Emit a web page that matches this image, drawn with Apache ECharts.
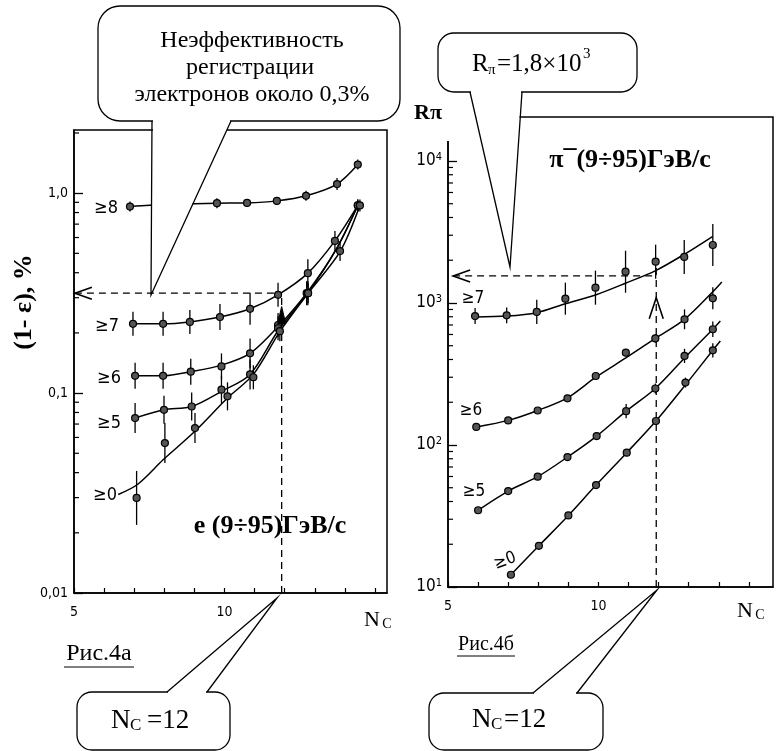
<!DOCTYPE html>
<html><head><meta charset="utf-8">
<script src="https://cdn.jsdelivr.net/npm/echarts@6/dist/echarts.min.js"></script>
<style>html,body{margin:0;padding:0;background:#fff}#c{width:776px;height:751px}</style>
</head><body><div id="c"></div>
<script>
// ---------- Рис.4а : electrons, (1-ε) % vs N_C ----------
const aX8=[6.86,9.75,10.75,11.74,12.71,13.74,14.43];
const aY8=[0.857,0.891,0.894,0.915,0.97,1.11,1.39];
const aE8=[0.025,0.025,0.02,0.02,0.025,0.03,0.025];
const aX7=[6.96,7.96,8.85,9.85,10.85,11.78,12.77,13.67,14.43];
const aY7=[0.222,0.222,0.227,0.24,0.264,0.31,0.398,0.577,0.868];
const aE7=[0.06,0.06,0.06,0.065,0.08,0.06,0.07,0.05,0.03];
const aX6=[7.03,7.96,8.88,9.9,10.85,11.78,12.73,14.43];
const aY6=[0.122,0.122,0.128,0.136,0.158,0.219,0.316,0.868];
const aE6=[0.065,0.065,0.065,0.065,0.075,0.06,0.06,0.03];
const aX5=[7.03,7.99,8.91,9.9,10.85,11.78,12.77];
const aY5=[0.075,0.0825,0.0857,0.104,0.124,0.211,0.316];
const aE5=[0.075,0.07,0.07,0.07,0.075,0.06,0.06];
const aX0=[7.08,8.02,9.02,10.1,10.96,11.84,12.78,13.84,14.5];
const aY0=[0.0299,0.0562,0.0668,0.0963,0.12,0.204,0.316,0.513,0.868];
const aE0=[0.135,0.1,0.075,0.07,0.06,0.05,0.05,0.05,0.03];
// drawn fit curves
const aC8x=[6.86,7.5,9.0,9.75,10.75,11.74,12.71,13.74,14.43];
const aC8y=[0.857,0.87,0.885,0.891,0.894,0.915,0.97,1.11,1.39];
const aC7x=[6.96,7.96,8.85,9.85,10.85,11.78,12.77,13.67,14.43];
const aC7y=[0.222,0.222,0.227,0.24,0.264,0.31,0.398,0.577,0.868];
const aC6x=[7.03,7.96,8.88,9.9,10.85,11.78,12.73,13.7,14.43];
const aC6y=[0.122,0.122,0.128,0.138,0.158,0.215,0.316,0.52,0.868];
const aC5x=[7.03,7.99,8.91,9.9,10.85,11.78,12.77,13.7,14.43];
const aC5y=[0.075,0.0825,0.0857,0.102,0.124,0.205,0.316,0.52,0.868];
const aC0x=[6.47,7.12,7.97,9.0,10.1,10.96,11.84,12.78,13.84,14.5];
const aC0y=[0.0311,0.035,0.0465,0.064,0.0945,0.124,0.203,0.316,0.51,0.868];
const aLevel=0.316, aNc=11.9, aArrowY=0.271;
const aTicks=[0.01,0.1,1], aTickText=['0,01','0,1','1,0'];
const aMinor=[0.02,0.03,0.04,0.05,0.06,0.07,0.08,0.09,0.2,0.3,0.4,0.5,0.6,0.7,0.8,0.9,2];
const aXLabels=[5,10];

// ---------- Рис.4б : pions, Rπ vs N_C ----------
const bX7=[5.9,6.95,7.95,8.9,9.9,10.9,11.9,12.85,13.8];
const bY7=[809,818,865,1072,1282,1660,1953,2110,2560];
const bE7=[0.056,0.056,0.085,0.113,0.12,0.148,0.12,0.12,0.148];
const bX6=[5.94,7.0,7.98,8.97,9.91,10.91,11.89,12.86,13.8];
const bY6=[134,149,175,213,306,447,563,767,1079];
const bE6=[0.02,0.02,0.02,0.02,0.02,0.025,0.03,0.07,0.077];
const bX5=[6.0,7.0,7.98,8.97,9.94,10.92,11.89,12.86,13.8];
const bY5=[34.7,47.4,59.8,82.2,115.6,173,250,424,653];
const bE5=[0.015,0.02,0.02,0.02,0.02,0.05,0.035,0.05,0.055];
const bX0=[7.09,8.02,9.0,9.92,10.94,11.91,12.89,13.8];
const bY0=[12.2,19.5,31.9,52.2,88.3,147.6,275,464];
const bE0=[0.02,0.02,0.02,0.02,0.02,0.025,0.035,0.05];
const bC7x=[5.9,6.95,7.95,8.9,9.9,10.9,11.9,12.85,13.8];
const bC7y=[798,809,855,988,1138,1377,1690,2200,2950];
const bC6x=[5.94,7.0,7.98,8.97,9.91,10.91,11.89,12.86,13.8,14.1];
const bC6y=[134,149,175,215,300,410,563,767,1200,1406];
const bC5x=[6.0,7.0,7.98,8.97,9.94,10.92,11.89,12.86,13.8,14.05];
const bC5y=[34.7,47.4,59.8,82.2,115.6,173,250,410,653,747];
const bC0x=[7.09,8.02,9.0,9.92,10.94,11.91,12.89,13.8,14.05];
const bC0y=[12.2,19.5,31.9,52.2,88.3,147.6,265,464,539];
const bLevel=1550, bNc=11.92, bArrowY=1088, bVTop=1780;
const bTicks=[10,100,1000,10000], bTickExp=['1','2','3','4'];
const bMinor=[20,30,40,50,60,70,80,90,200,300,400,500,600,700,800,900,2000,3000,4000,5000,6000,7000,8000,9000];
const bXLabels=[5,10];

// ---------- helpers ----------
const SERIF="'Liberation Serif','Times New Roman',serif";
const SANS="'Liberation Sans Narrow','DejaVu Sans Condensed','Liberation Sans',sans-serif";
const xy=(xs,ys)=>xs.map((x,i)=>[x,ys[i]]);
const bars=(xs,ys,es)=>xs.map((x,i)=>[x,ys[i]/Math.pow(10,es[i]),ys[i]*Math.pow(10,es[i])]);
function curve(g,xs,ys){return {type:'line',xAxisIndex:g,yAxisIndex:g,data:xy(xs,ys),smooth:0.3,symbol:'none',silent:true,z:3,lineStyle:{color:'#000',width:1.5}};}
function points(g,xs,ys,size){return {type:'scatter',xAxisIndex:g,yAxisIndex:g,data:xy(xs,ys),symbol:'circle',symbolSize:size||7,silent:true,z:5,itemStyle:{color:'#555',borderColor:'#000',borderWidth:1.2,opacity:1}};}
function errs(g,xs,ys,es){return {type:'custom',xAxisIndex:g,yAxisIndex:g,data:bars(xs,ys,es),encode:{x:0,y:[1,2]},silent:true,z:4,
  renderItem:(p,api)=>{const a=api.coord([api.value(0),api.value(1)]);const b=api.coord([api.value(0),api.value(2)]);
    return {type:'line',shape:{x1:a[0],y1:a[1],x2:b[0],y2:b[1]},style:{stroke:'#000',lineWidth:1.3}};}};}
function dashed(g,data){return {type:'line',xAxisIndex:g,yAxisIndex:g,data:data,symbol:'none',silent:true,z:3,lineStyle:{color:'#000',width:1.3,type:[7,5]}};}
function minorTicks(g,xmin,vals){return {type:'custom',xAxisIndex:g,yAxisIndex:g,data:vals.map(v=>[xmin,v]),clip:false,silent:true,z:4,
  renderItem:(p,api)=>{const c=api.coord([api.value(0),api.value(1)]);return {type:'line',shape:{x1:c[0],y1:c[1],x2:c[0]+5,y2:c[1]},style:{stroke:'#000',lineWidth:1.2}};}};}
function arrow(g,pt,kind){return {type:'custom',xAxisIndex:g,yAxisIndex:g,data:[pt],clip:false,silent:true,z:6,
  renderItem:(p,api)=>{const c=api.coord([api.value(0),api.value(1)]);const x=c[0],y=c[1];
    if(kind==='left') return {type:'polyline',shape:{points:[[x+17,y-6],[x,y],[x+17,y+6]]},style:{stroke:'#000',lineWidth:1.6,fill:'none'}};
    if(kind==='up') return {type:'polyline',shape:{points:[[x-7,y+21],[x,y],[x+7,y+21]]},style:{stroke:'#000',lineWidth:1.6,fill:'none'}};
    return {type:'polygon',shape:{points:[[x-4,y+17],[x,y],[x+4,y+17]]},style:{fill:'#000',stroke:'#000',lineWidth:1}};}};}

const axisLineStyle={show:true,onZero:false,lineStyle:{color:'#000',width:1.5}};
function xAx(g,max,labels){return {gridIndex:g,type:'value',min:5,max:max,interval:1,axisLine:axisLineStyle,
  axisTick:{show:true,inside:true,length:5,lineStyle:{color:'#000',width:1.2}},splitLine:{show:false},
  axisLabel:{formatter:v=>labels.indexOf(v)>=0?String(v):'',color:'#000',fontSize:14,fontFamily:SANS,margin:12,showMaxLabel:false}};}
function txt(x,y,text,font,extra){return Object.assign({type:'text',x:x,y:y,z:103,style:{text:text,font:font,fill:'#000',textAlign:'center',textVerticalAlign:'middle'}},extra||{});}
function ltxt(x,y,text,font){return {type:'text',x:x,y:y,z:103,style:{text:text,font:font,fill:'#000',textAlign:'left',textVerticalAlign:'middle'}};}

const option={
  animation:false,
  backgroundColor:'#fff',
  grid:[
    {left:74,top:130,width:313,height:463,show:true,borderColor:'#000',borderWidth:1.5,backgroundColor:'transparent',outerBoundsMode:'none'},
    {left:448,top:117,width:325,height:470,show:true,borderColor:'#000',borderWidth:1.5,backgroundColor:'transparent',outerBoundsMode:'none'}
  ],
  xAxis:[xAx(0,15.4,aXLabels),xAx(1,15.8,bXLabels)],
  yAxis:[
    {gridIndex:0,type:'log',logBase:10,min:0.01,max:2.07,axisLine:axisLineStyle,splitLine:{show:false},
     axisTick:{show:true,inside:true,length:9,lineStyle:{color:'#000',width:1.3}},
     axisLabel:{color:'#000',fontSize:14,fontFamily:SANS,margin:6,showMaxLabel:false,
       formatter:v=>{for(let i=0;i<aTicks.length;i++){if(Math.abs(v-aTicks[i])/aTicks[i]<1e-6)return aTickText[i];}return '';}}},
    {gridIndex:1,type:'log',logBase:10,min:10,max:20400,axisLine:axisLineStyle,splitLine:{show:false},
     axisTick:{show:true,inside:true,length:9,lineStyle:{color:'#000',width:1.3}},
     axisLabel:{color:'#000',fontSize:17,fontFamily:SANS,margin:6,showMaxLabel:false,
       rich:{s:{fontSize:11,fontFamily:SANS,color:'#000',verticalAlign:'top',padding:[0,0,8,0]}},
       formatter:v=>{for(let i=0;i<bTicks.length;i++){if(Math.abs(v-bTicks[i])/bTicks[i]<1e-6)return '10{s|'+bTickExp[i]+'}';}return '';}}}
  ],
  series:[
    minorTicks(0,5,aMinor),
    curve(0,aC8x,aC8y),curve(0,aC7x,aC7y),curve(0,aC6x,aC6y),curve(0,aC5x,aC5y),curve(0,aC0x,aC0y),
    errs(0,aX8,aY8,aE8),errs(0,aX7,aY7,aE7),errs(0,aX6,aY6,aE6),errs(0,aX5,aY5,aE5),errs(0,aX0,aY0,aE0),
    points(0,aX8,aY8),points(0,aX7,aY7),points(0,aX6,aY6),points(0,aX5,aY5),points(0,aX0,aY0),
    dashed(0,[[5.03,aLevel],[aNc-0.1,aLevel]]),
    dashed(0,[[aNc,0.01],[aNc,aLevel]]),
    arrow(0,[5.03,aLevel],'left'),arrow(0,[aNc,aArrowY],'tri'),

    minorTicks(1,5,bMinor),
    curve(1,bC7x,bC7y),curve(1,bC6x,bC6y),curve(1,bC5x,bC5y),curve(1,bC0x,bC0y),
    errs(1,bX7,bY7,bE7),errs(1,bX6,bY6,bE6),errs(1,bX5,bY5,bE5),errs(1,bX0,bY0,bE0),
    points(1,bX7,bY7),points(1,bX6,bY6),points(1,bX5,bY5),points(1,bX0,bY0),
    dashed(1,[[5.17,bLevel],[bNc,bLevel]]),
    dashed(1,[[bNc,10],[bNc,bVTop]]),
    arrow(1,[5.17,bLevel],'left'),arrow(1,[bNc,bArrowY],'up')
  ],
  graphic:[
    // axis titles and panel captions
    txt(24,302,'(1- ε), %','bold 26px '+SERIF,{rotation:Math.PI/2}),
    txt(428,113,'Rπ','bold 22px '+SERIF),
    txt(372,620,'N','22px '+SERIF),
    txt(387,624,'C','14px '+SERIF),
    txt(745,611,'N','22px '+SERIF),
    txt(760,615,'C','14px '+SERIF),
    txt(270,526,'e (9÷95)ГэВ/с','bold 26px '+SERIF),
    txt(630,160,'π¯(9÷95)ГэВ/с','bold 26px '+SERIF),
    txt(99,654,'Рис.4а','24px '+SERIF),
    {type:'line',z:100,shape:{x1:64,y1:667,x2:134,y2:667},style:{stroke:'#000',lineWidth:1}},
    txt(486,645,'Рис.4б','20px '+SERIF),
    {type:'line',z:100,shape:{x1:457,y1:656,x2:515,y2:656},style:{stroke:'#000',lineWidth:1}},
    // curve labels
    txt(106,208,'≥8','18px '+SANS),
    txt(107,326,'≥7','18px '+SANS),
    txt(109,378,'≥6','18px '+SANS),
    txt(109,423,'≥5','18px '+SANS),
    txt(105,495,'≥0','18px '+SANS),
    txt(473,299,'≥7','17px '+SANS),
    txt(471,411,'≥6','17px '+SANS),
    txt(474,492,'≥5','17px '+SANS),
    txt(505,561,'≥0','17px '+SANS,{rotation:0.35}),

    // top-left of right frame is open in the original
    {type:'rect',z:99,shape:{x:443,y:111,width:33,height:30},style:{fill:'#fff'}},

    // callout: top left
    {type:'rect',z:100,shape:{x:98,y:6,width:302,height:115,r:22},style:{fill:'#fff',stroke:'#000',lineWidth:1.3}},
    {type:'polygon',z:101,shape:{points:[[153,116],[230,116],[230,123],[151,293],[153,123]]},style:{fill:'#fff'}},
    {type:'polyline',z:102,shape:{points:[[152,121],[151,295],[231,121]]},style:{stroke:'#000',lineWidth:1.3,fill:'none'}},
    txt(252,41,'Неэффективность','24px '+SERIF),
    txt(250,68,'регистрации','24px '+SERIF),
    txt(252,95,'электронов около 0,3%','24px '+SERIF),

    // callout: top right
    {type:'rect',z:100,shape:{x:438,y:33,width:199,height:59,r:16},style:{fill:'#fff',stroke:'#000',lineWidth:1.3}},
    {type:'polygon',z:101,shape:{points:[[471,88],[521,88],[521,94],[510,265],[471,94]]},style:{fill:'#fff'}},
    {type:'polyline',z:102,shape:{points:[[470,92],[510,267],[522,92]]},style:{stroke:'#000',lineWidth:1.3,fill:'none'}},
    ltxt(472,64,'R','25px '+SERIF),
    ltxt(488,70,'π','15px '+SERIF),
    ltxt(497,64,'=1,8×10','25px '+SERIF),
    ltxt(583,54,'3','15px '+SERIF),

    // callout: bottom left
    {type:'rect',z:100,shape:{x:77,y:692,width:153,height:58,r:15},style:{fill:'#fff',stroke:'#000',lineWidth:1.3}},
    {type:'polygon',z:101,shape:{points:[[168,689],[206,689],[206,694],[168,694]]},style:{fill:'#fff'}},
    {type:'polyline',z:102,shape:{points:[[167,692],[277,598],[207,692]]},style:{stroke:'#000',lineWidth:1.3,fill:'none'}},
    ltxt(111,721,'N','27px '+SERIF),
    ltxt(130,726,'C','17px '+SERIF),
    ltxt(147,721,'=12','27px '+SERIF),

    // callout: bottom right
    {type:'rect',z:100,shape:{x:429,y:693,width:174,height:57,r:15},style:{fill:'#fff',stroke:'#000',lineWidth:1.3}},
    {type:'polygon',z:101,shape:{points:[[534,690],[576,690],[576,695],[534,695]]},style:{fill:'#fff'}},
    {type:'polyline',z:102,shape:{points:[[533,693],[657,590],[577,693]]},style:{stroke:'#000',lineWidth:1.3,fill:'none'}},
    ltxt(472,720,'N','27px '+SERIF),
    ltxt(491,725,'C','17px '+SERIF),
    ltxt(504,720,'=12','27px '+SERIF)
  ]
};
const chart=echarts.init(document.getElementById('c'),null,{renderer:'canvas'});
chart.setOption(option);
</script></body></html>
